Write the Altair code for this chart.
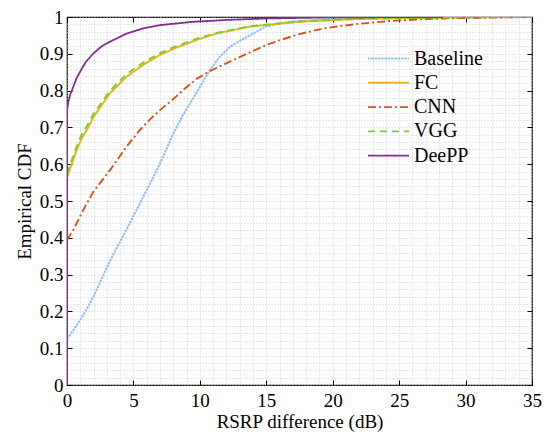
import altair as alt
import pandas as pd

# ---- data ----
series_names = ["Baseline", "FC", "CNN", "VGG", "DeePP"]

baseline_x = [0, 0.5, 1, 1.5, 2, 2.6, 3.24, 3.9, 4.49, 5.1, 5.74, 6.4, 7, 7.5, 8, 8.75, 9.76,
              10.76, 11.5, 12.3, 13.1, 13.77, 14.4, 15, 16, 17, 20, 25, 35]
baseline_y = [0.125, 0.15, 0.177, 0.207, 0.24, 0.288, 0.337, 0.383, 0.423, 0.466, 0.512, 0.558,
              0.602, 0.642, 0.683, 0.735, 0.795, 0.856, 0.892, 0.92, 0.937, 0.95, 0.963, 0.974,
              0.983, 0.988, 0.995, 0.999, 1.0]

fc_x = [0, 0.25, 0.5, 0.75, 1.1, 1.6, 2, 3.24, 4.49, 5.74, 7, 8.25, 9.76, 11.26, 13.77, 17.5, 22, 30, 35]
fc_y = [0.562, 0.59, 0.615, 0.64, 0.67, 0.70, 0.729, 0.793, 0.838, 0.870, 0.897, 0.917, 0.938,
        0.955, 0.974, 0.987, 0.995, 0.999, 1.0]

cnn_x = [0, 0.47, 1.23, 1.98, 3.24, 4.49, 5.49, 6.25, 7, 8.25, 8.75, 9.76, 10.76, 12.5, 15, 15.8,
         17.3, 19.3, 21.8, 24.3, 26.8, 29.3, 35]
cnn_y = [0.394, 0.421, 0.476, 0.525, 0.584, 0.648, 0.693, 0.722, 0.747, 0.785, 0.802, 0.832,
         0.853, 0.883, 0.924, 0.934, 0.952, 0.969, 0.981, 0.989, 0.994, 0.997, 1.0]

vgg_x = [0, 0.25, 0.5, 0.75, 1.1, 1.6, 2, 3.24, 4.49, 5.74, 7, 8.25, 9.76, 11.26, 13.77, 17.5, 22, 30, 35]
vgg_y = [0.575, 0.60, 0.625, 0.65, 0.68, 0.71, 0.737, 0.80, 0.845, 0.876, 0.902, 0.921, 0.941,
         0.957, 0.975, 0.988, 0.995, 0.999, 1.0]

deepp_x = [0, 0, 0.1, 0.25, 0.47, 0.7, 0.98, 1.4, 1.98, 2.6, 3.24, 4.49, 5.74, 7, 9.5, 12, 15, 20, 28.3]
deepp_y = [0, 0.747, 0.77, 0.79, 0.81, 0.832, 0.851, 0.877, 0.901, 0.92, 0.933, 0.955, 0.969,
           0.978, 0.987, 0.992, 0.996, 0.999, 1.0]

x_major = [0, 5, 10, 15, 20, 25, 30, 35]
y_major = [0, 0.1, 0.2, 0.3, 0.4, 0.5, 0.6, 0.7, 0.8, 0.9, 1]
x_minor = list(range(0, 36))
y_minor = [round(i * 0.02, 2) for i in range(51)]

colors = ["#8FBFF5", "#EDB120", "#D95319", "#74D12C", "#7E2F8E"]
dashes = [[2.5, 0.8], [1, 0], [8, 3, 2, 3], [7, 5], [1, 0]]
widths = [2, 1.8, 2, 2, 3]

rows = []
for name, xs, ys in [("Baseline", baseline_x, baseline_y), ("FC", fc_x, fc_y),
                     ("CNN", cnn_x, cnn_y), ("VGG", vgg_x, vgg_y), ("DeePP", deepp_x, deepp_y)]:
    for i, (a, b) in enumerate(zip(xs, ys)):
        rows.append({"series": name, "x": a, "y": b, "idx": i})
df = pd.DataFrame(rows)

FONT = "Liberation Serif, Times New Roman, serif"
xs_scale = alt.Scale(domain=[0, 35], nice=False, zero=False)
ys_scale = alt.Scale(domain=[0, 1], nice=False)

x_major_test = "abs(datum.value/5 - round(datum.value/5)) < 0.001"
y_major_test = "abs(datum.value*10 - round(datum.value*10)) < 0.001"

lines = alt.Chart(df).mark_line(clip=True).encode(
    x=alt.X("x:Q", scale=xs_scale, title="RSRP difference (dB)",
            axis=alt.Axis(values=x_minor, grid=True, gridDash=[1, 2], gridColor="#c4c4c4",
                          gridWidth=0.8, domain=False, tickSize=5, offset=-5,
                          tickColor="black", tickWidth=1,
                          tickOpacity={"condition": {"test": x_major_test, "value": 1}, "value": 0},
                          labelExpr=f"({x_major_test}) ? datum.label : ''",
                          labelFont=FONT, labelFontSize=19, labelColor="black", labelPadding=6,
                          titleFont=FONT, titleFontSize=19, titleFontWeight="normal",
                          titleColor="black", titlePadding=2, labelFlush=False, labelOverlap=False)),
    y=alt.Y("y:Q", scale=ys_scale, title="Empirical CDF",
            axis=alt.Axis(values=y_minor, grid=True, gridDash=[1, 2], gridColor="#c4c4c4",
                          gridWidth=0.8, domain=False, tickSize=5, offset=-5,
                          tickColor="black", tickWidth=1, format="~g",
                          tickOpacity={"condition": {"test": y_major_test, "value": 1}, "value": 0},
                          labelExpr=f"({y_major_test}) ? datum.label : ''",
                          labelFont=FONT, labelFontSize=19, labelColor="black", labelPadding=4,
                          titleFont=FONT, titleFontSize=19, titleFontWeight="normal",
                          titleColor="black", titlePadding=5, labelFlush=False, labelOverlap=False)),
    color=alt.Color("series:N", scale=alt.Scale(domain=series_names, range=colors),
                    sort=series_names, title=None,
                    legend=alt.Legend(orient="none", legendX=310, legendY=30,
                                      symbolType="M-2,0H2", symbolSize=420,
                                      symbolStrokeWidth=2.2, labelFont=FONT,
                                      labelFontSize=20, labelColor="black", labelOffset=14,
                                      rowPadding=2.3, padding=0)),
    strokeDash=alt.StrokeDash("series:N", scale=alt.Scale(domain=series_names, range=dashes),
                              sort=series_names, title=None),
    strokeWidth=alt.StrokeWidth("series:N", scale=alt.Scale(domain=series_names, range=widths),
                                legend=None),
    order=alt.Order("idx:Q"),
)

frame = alt.Chart(df).mark_point(opacity=0).encode(
    x=alt.X("x:Q", scale=xs_scale, title=None,
            axis=alt.Axis(orient="top", values=x_major, labels=False, grid=False, domain=False,
                          tickSize=5, offset=-5, tickColor="black")),
    y=alt.Y("y:Q", scale=ys_scale, title=None,
            axis=alt.Axis(orient="right", values=y_major, labels=False, grid=False, domain=False,
                          tickSize=5, offset=-5, tickColor="black")),
)

chart = alt.layer(lines, frame).resolve_axis(x="independent", y="independent").properties(
    width=465, height=368,
    autosize=alt.AutoSizeParams(type="none"),
    padding={"left": 67, "top": 17, "right": 14, "bottom": 50},
    background="white",
).configure_view(stroke="black", strokeWidth=1.2)

chart.save("out.html", embed_options={"renderer": "svg", "actions": False})
